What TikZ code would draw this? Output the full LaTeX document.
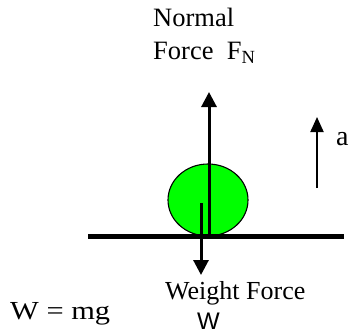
\documentclass[tikz,border=0pt]{standalone}
\usepackage{fontspec}
\setmainfont{Liberation Serif}
\newfontfamily\arialfont{Liberation Sans}
\usetikzlibrary{arrows.meta,shapes.geometric}
\definecolor{ballgreen}{RGB}{0,255,0}
\tikzset{
  lbl/.style={anchor=base west, inner sep=0pt, font=\fontsize{26.5}{30}\selectfont},
  force/.style={line width=3pt, -{Triangle[width=15pt,length=15pt]}},
}
\begin{document}
\begin{tikzpicture}[x=1pt,y=-1pt]
\useasboundingbox (0,0) rectangle (350,334);
% ball
\node (ball) [ellipse, draw=black, line width=1.1pt, fill=ballgreen, minimum width=80pt, minimum height=72pt, inner sep=0pt] at (208,200) {};
% ground
\coordinate (gl) at (88,236);
\coordinate (gr) at (344,236);
\draw[line width=5pt] (gl) -- (gr);
% normal force
\coordinate (nb) at (209,235);
\coordinate (nt) at (209,92);
\draw[force] (nb) -- (nt);
% weight
\coordinate (wb) at (201,203);
\coordinate (wt) at (201,275);
\draw[force] (wb) -- (wt);
% acceleration
\coordinate (ab) at (317,188);
\coordinate (at) at (317,117);
\draw[line width=2pt, -{Triangle[width=13pt,length=15pt]}] (ab) -- (at);
\node (alabel) [lbl, font=\fontsize{28}{30}\selectfont] at (336,145) {a};
% labels
\node (normal) [lbl] at (153,27) {Normal};
\node (force) [lbl] at (153,60) {Force\ \ F\textsubscript{N}};
\node (weight) [lbl, font=\fontsize{26}{30}\selectfont] at (165,299) {Weight Force};
\node (wsans) [lbl, font=\arialfont\fontsize{24}{28}\selectfont] at (197,329) {W};
\node (wmg) [lbl, font=\fontsize{26}{30}\selectfont] at (10,319) {\scalebox{1.17}[1]{W = mg}};
\end{tikzpicture}
\end{document}
